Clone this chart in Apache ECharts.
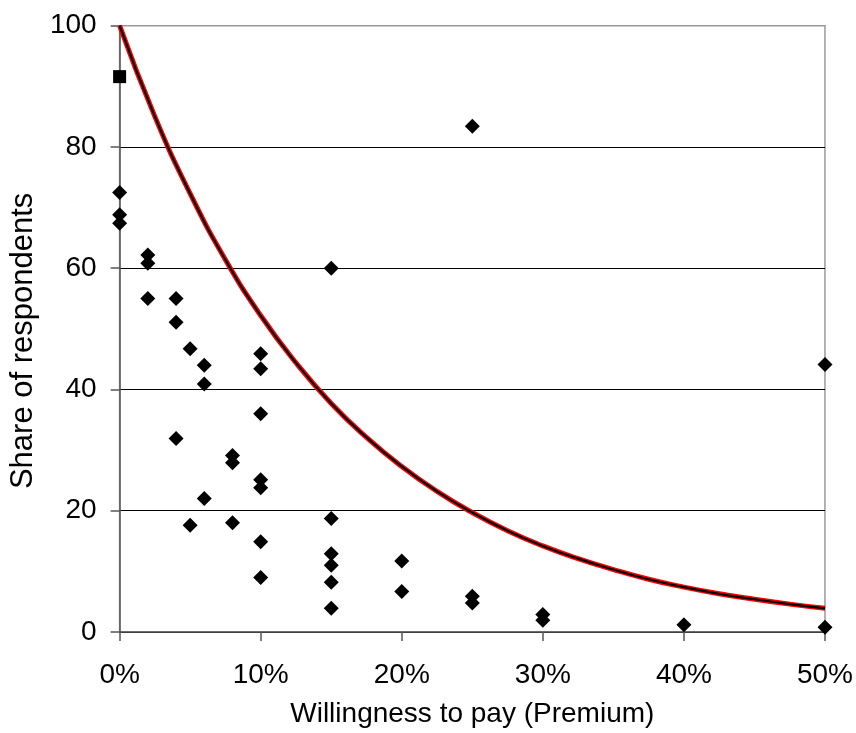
<!DOCTYPE html>
<html>
<head>
<meta charset="utf-8">
<script src="https://cdn.jsdelivr.net/npm/echarts@6/dist/echarts.min.js"></script>
<style>
  html, body { margin: 0; padding: 0; background: #fff; }
  #chart { width: 856px; height: 733px; }
</style>
</head>
<body>
<div id="chart"></div>
<script>
// survey answers: premium (%) vs share of respondents
const premiumPct = [0, 0, 0, 2, 2, 2, 4, 4, 4, 5, 5, 6, 6, 6, 8, 8, 8,
  10, 10, 10, 10, 10, 10, 10, 15, 15, 15, 15, 15, 15, 20, 20, 25, 25, 25, 30, 30, 40, 50, 50]
const sharePct = [72.5, 68.8, 67.4, 62.2, 60.8, 55.0, 55.0, 51.1, 31.9, 46.7, 17.6, 44.0, 40.9, 22.0, 29.1, 27.9, 18.0,
  45.9, 43.4, 36.0, 25.1, 23.8, 14.9, 9.0, 60.0, 18.7, 12.9, 11.0, 8.2, 3.9, 11.7, 6.7, 83.4, 5.9, 4.8, 2.9, 1.95, 1.2, 44.1, 0.8]

// separate square marker
const squareX = [0]
const squareY = [91.6]

// fitted trend curve
const trendX = [0, 2.5, 5, 7.5, 10, 12.5, 15, 17.5, 20, 22.5, 25, 27.5, 30, 32.5, 35, 37.5, 40, 42.5, 45, 47.5, 50]
const trendY = [100, 85.0, 72.3, 61.4, 52.2, 44.4, 37.7, 32.1, 27.3, 23.2, 19.7, 16.7, 14.2, 12.1, 10.3, 8.7, 7.4, 6.3, 5.4, 4.6, 3.9]

const xTicks = [0, 10, 20, 30, 40, 50]
const yTicks = [0, 20, 40, 60, 80, 100]

const zip = (a, b) => a.map((v, i) => [v, b[i]])
const font = 'Liberation Sans, Arial, sans-serif'

const chart = echarts.init(document.getElementById('chart'))
chart.setOption({
  animation: false,
  grid: { left: 114, right: 30.7, top: 25.7, bottom: 99.5, show: true, borderColor: '#9a9a9a', borderWidth: 1.5 },
  xAxis: {
    type: 'value', min: xTicks[0], max: xTicks[xTicks.length - 1], interval: 10,
    name: 'Willingness to pay (Premium)', nameLocation: 'middle', nameGap: 68,
    nameTextStyle: { fontFamily: font, fontSize: 28, color: '#000' },
    axisLine: { show: true, onZero: false, lineStyle: { color: '#555', width: 1.5 } },
    axisTick: { show: true, length: 9, lineStyle: { color: '#555', width: 1.5 } },
    axisLabel: { formatter: '{value}%', fontFamily: font, fontSize: 28, color: '#000', margin: 29 },
    splitLine: { show: false }
  },
  yAxis: {
    type: 'value', min: yTicks[0], max: yTicks[yTicks.length - 1], interval: 20,
    name: 'Share of respondents', nameLocation: 'middle', nameGap: 75, nameRotate: 90,
    nameTextStyle: { fontFamily: font, fontSize: 31, color: '#000', padding: [0, 24, 0, 0] },
    axisLine: { show: true, onZero: false, lineStyle: { color: '#555', width: 1.5 } },
    axisTick: { show: true, length: 9, lineStyle: { color: '#555', width: 1.5 } },
    axisLabel: { fontFamily: font, fontSize: 28, color: '#000', margin: 23 },
    splitLine: { show: true, lineStyle: { color: ['#000', '#000', '#000', '#000', '#000', '#9a9a9a'], width: 1.2 } }
  },
  series: [
    {
      type: 'line', data: zip(trendX, trendY), smooth: true, showSymbol: false, z: 2,
      lineStyle: { color: '#ff0000', width: 5 }
    },
    {
      type: 'line', data: zip(trendX, trendY), smooth: true, showSymbol: false, z: 3,
      lineStyle: { color: '#000', width: 2.2 }
    },
    {
      type: 'scatter', data: zip(premiumPct, sharePct), symbol: 'diamond', symbolSize: 15, z: 4,
      itemStyle: { color: '#000', opacity: 1 }
    },
    {
      type: 'scatter', data: zip(squareX, squareY), symbol: 'rect', symbolSize: 13, z: 4,
      itemStyle: { color: '#000', opacity: 1 }
    }
  ]
})
</script>
</body>
</html>
